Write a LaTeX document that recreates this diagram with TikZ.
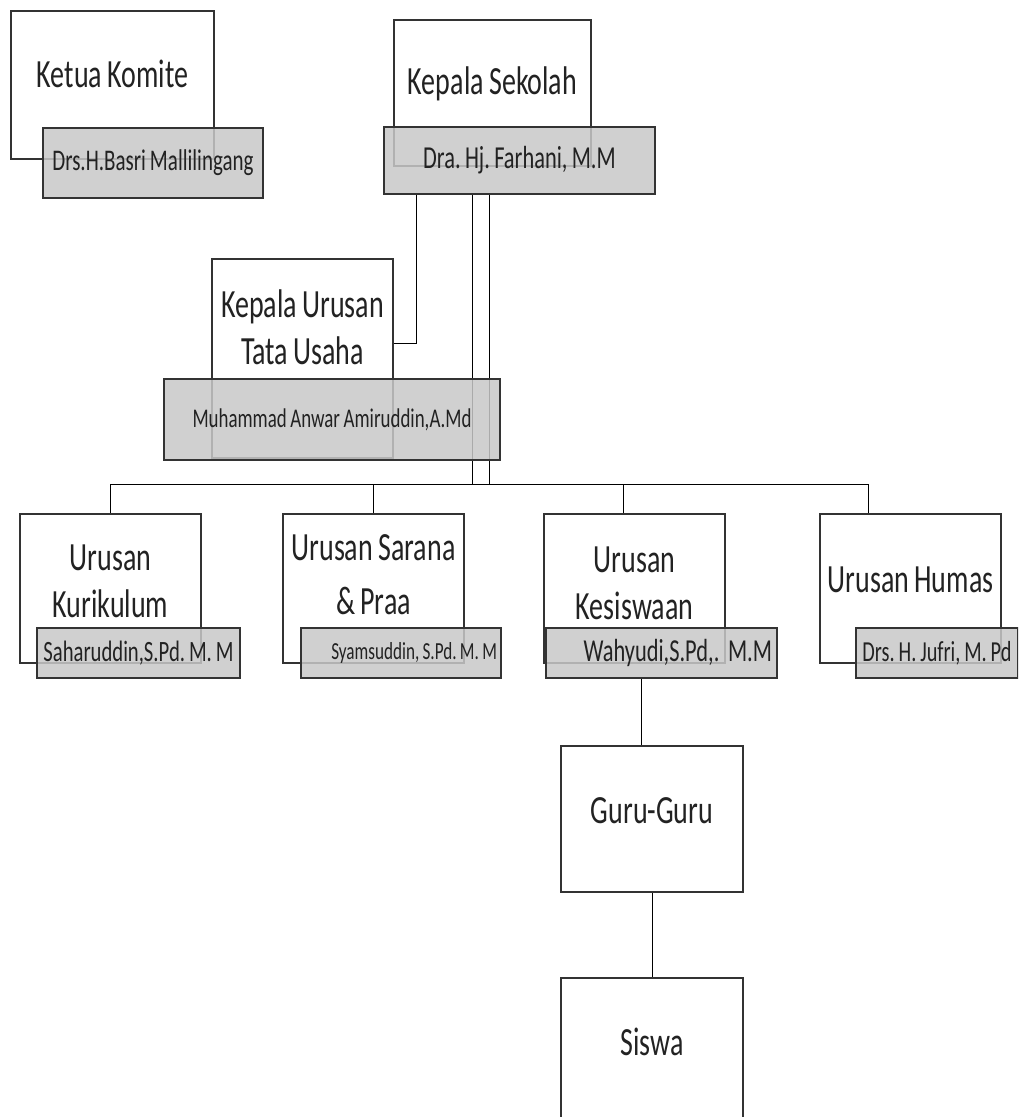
\documentclass[tikz,border=0pt]{standalone}
\usepackage{fontspec}
\newfontfamily\orgfont[FakeStretch=0.7,WordSpace=0.85]{Carlito}
\usetikzlibrary{positioning,backgrounds}
\definecolor{garis}{HTML}{333333}
\definecolor{abu}{HTML}{C8C8C8}
\definecolor{teks}{HTML}{222222}
\newcommand\ukuran[1]{\orgfont\frenchspacing\fontsize{#1}{47}\selectfont}

\begin{document}
\begin{tikzpicture}[x=1pt,y=-1pt,line width=2pt,
  jabatan/.style = {draw=garis, anchor=north west, inner sep=0pt, align=center, text=teks, font=\ukuran{40}},
  nama/.style = {draw=garis, fill=abu, fill opacity=0.85, text opacity=1, anchor=north west, inner sep=0pt, text=teks}]
\useasboundingbox (0,0) rectangle (1018,1117);
\clip (0,0) rectangle (1018,1117);

\node[jabatan, minimum width=203, minimum height=148, text depth=22] (ketua) at (10,10) {Ketua Komite};
\node[jabatan, minimum width=197, minimum height=146, text depth=24] (ks) at (393,19) {Kepala Sekolah};
\node[jabatan, minimum width=181, minimum height=199, text depth=63] (tu) at (211,258) {Kepala Urusan\\Tata Usaha};

\node[jabatan, minimum width=181, minimum height=149, text depth=15] (kur) at (19,513) {Urusan\\Kurikulum};
\node[jabatan, minimum width=181, minimum height=149, text depth=28, font=\orgfont\fontsize{40}{54}\selectfont] (sar) at (282,513) {Urusan Sarana\\\& Praa};
\node[jabatan, minimum width=181, minimum height=149, text depth=11] (kes) at (543,513) {Urusan\\Kesiswaan};
\node[jabatan, minimum width=181, minimum height=149, text depth=17] (hum) at (819,513) {Urusan Humas};

\node[jabatan, minimum width=182, minimum height=146, text depth=16] (guru) at (560,745) {Guru-Guru};
\node[jabatan, minimum width=182, minimum height=146, text depth=18, below=84pt of guru] (siswa) {Siswa};

% nama pejabat
\node[nama, minimum width=220, minimum height=70, font=\ukuran{30}] (ketuanama) at (42,127) {Drs.H.Basri Mallilingang};
\node[nama, minimum width=271, minimum height=67, font=\ukuran{32}] (ksnama) at (383,126) {Dra. Hj. Farhani, M.M};
\node[nama, minimum width=336, minimum height=81, font=\ukuran{27}] (tunama) at (163,378) {Muhammad Anwar Amiruddin,A.Md};
\node[nama, minimum width=203, minimum height=50, font=\ukuran{29.5}] (kurnama) at (36,627) {Saharuddin,S.Pd. M. M};
\node[nama, minimum height=50, font=\ukuran{24.5}] (sarnama) at (300,627) {\makebox[200pt][r]{Syamsuddin, S.Pd. M. M\hspace{4pt}}};
\node[nama, minimum height=50, font=\ukuran{32}] (kesnama) at (545,627) {\makebox[231pt][r]{Wahyudi,S.Pd,.\ \ M.M\hspace{5pt}}};
\node[nama, minimum width=162, minimum height=50, font=\ukuran{29}] (humnama) at (855,627) {Drs. H. Jufri, M. Pd};

\begin{scope}[on background layer, draw=garis, line width=2pt]
\coordinate (bus) at (489,484);
\draw ([xshift=33pt]ksnama.south west) |- ([yshift=-85pt]tu.north east);
\draw (ksnama.south -| bus) -- (bus);
\draw ([xshift=-17pt]ksnama.south -| bus) -- ([xshift=-17pt]bus);
\draw (kur.north) |- ([xshift=-42.5pt]hum.north |- bus) -- ([xshift=-42.5pt]hum.north);
\draw (sar.north) -- (sar.north |- bus);
\draw ([xshift=-11.5pt]kes.north) -- ([xshift=-11.5pt]kes.north |- bus);
\draw ([xshift=-11pt]guru.north) -- ([xshift=-11pt]guru.north |- kesnama.south);
\draw (guru.south) -- (siswa.north);
\end{scope}

\end{tikzpicture}
\end{document}
